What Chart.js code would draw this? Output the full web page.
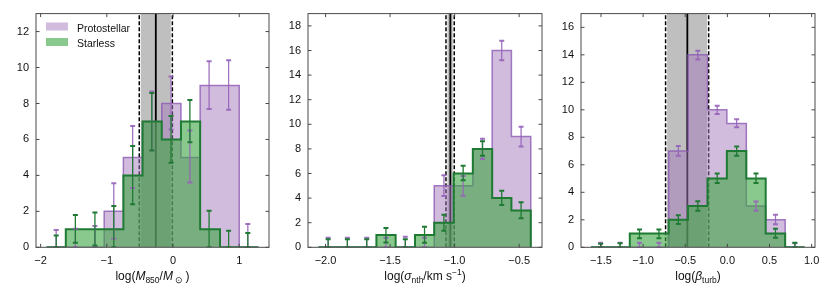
<!DOCTYPE html>
<html>
<head>
<meta charset="utf-8">
<script src="https://cdn.jsdelivr.net/npm/chart.js@4.4.1/dist/chart.umd.min.js"></script>
<style>
  body { margin: 0; background: #fff; }
  .panel { position: absolute; top: 0; height: 284px; }
</style>
</head>
<body>
<div class="panel" style="left:0;width:275px"><canvas id="massChart"></canvas></div>
<div class="panel" style="left:272px;width:276px"><canvas id="sigmaChart"></canvas></div>
<div class="panel" style="left:545px;width:285px"><canvas id="betaChart"></canvas></div>
<script>
// ---- log(M850 / Msun) ----
const massEdges = [-1.91, -1.62, -1.33, -1.04, -0.75, -0.46, -0.17, 0.12, 0.41, 0.71, 1.00, 1.29];
const massCenters = [-1.765, -1.475, -1.18, -0.895, -0.61, -0.32, -0.03, 0.255, 0.545, 0.84, 1.13];
const purpleMass = [0, 0, 0, 2, 5, 7, 8, 5, 9, 9, 0];
const greenMass = [0, 1, 1, 1, 4, 7, 6, 7, 1, 0, 0];
const purpleMassLo = [0, 0, 0, 0.48, 3.3, 5.4, 6.55, 3.6, 7.7, 7.65, 0];
const purpleMassHi = [0.96, 1.03, 1.18, 3.56, 6.75, 8.67, 9.5, 6.5, 10.35, 10.4, 1.3];
const greenMassLo = [0, 0.26, 0.1, 0, 2.4, 5.38, 4.7, 5.85, 0, 0, 0];
const greenMassHi = [0.66, 1.79, 1.94, 2.3, 5.63, 8.58, 7.3, 8.2, 2.03, 0.92, 0.8];
const massBand = [-0.51, -0.26, -0.01]; // low, median, high

// ---- log(sigma_nth / km s^-1) ----
const sigmaEdges = [-2.055, -1.905, -1.756, -1.606, -1.457, -1.307, -1.158, -1.008, -0.859, -0.709, -0.560, -0.410];
const sigmaCenters = [-1.98, -1.831, -1.681, -1.532, -1.382, -1.233, -1.083, -0.934, -0.784, -0.635, -0.485];
const purpleSigma = [0, 0, 0, 0, 0, 0, 5, 5, 8, 16, 9];
const greenSigma = [0, 0, 0, 1, 0, 1, 2, 6, 8, 4, 3];
const purpleSigmaLo = [0, 0, 0, 0, 0, 0, 4.18, 4.2, 7.18, 15.2, 8.2];
const purpleSigmaHi = [0.78, 0.78, 0.78, 0.78, 0.86, 0.78, 5.86, 5.8, 8.82, 16.8, 9.8];
const greenSigmaLo = [0, 0, 0, 0.4, 0, 0.38, 1.35, 5.45, 7.45, 3.43, 2.37];
const greenSigmaHi = [0.65, 0.65, 0.65, 1.57, 0.65, 1.67, 2.64, 6.64, 8.63, 4.6, 3.66];
const sigmaBand = [-1.067, -1.033, -1.003];

// ---- log(beta_turb) ----
const betaEdges = [-1.619, -1.389, -1.158, -0.928, -0.697, -0.467, -0.236, -0.006, 0.225, 0.455, 0.686, 0.916];
const betaCenters = [-1.504, -1.273, -1.043, -0.812, -0.582, -0.351, -0.121, 0.110, 0.340, 0.571, 0.801];
const purpleBeta = [0, 0, 0, 0, 7, 14, 10, 9, 3, 2, 0];
const greenBeta = [0, 0, 1, 1, 2, 3, 5, 7, 5, 1, 0];
const purpleBetaLo = [0, 0, 0, 0, 6.66, 13.66, 9.7, 8.74, 2.65, 1.67, 0];
const purpleBetaHi = [0.34, 0.34, 0.34, 0.34, 7.36, 14.29, 10.3, 9.31, 3.33, 2.36, 0.3];
const greenBetaLo = [0, 0, 0.65, 0.65, 1.69, 2.65, 4.68, 6.66, 4.68, 0.7, 0];
const greenBetaHi = [0.25, 0.3, 1.3, 1.3, 2.34, 3.35, 5.36, 7.34, 5.36, 1.35, 0.34];
const betaBand = [-0.733, -0.475, -0.222];

const seriesNames = ['Protostellar', 'Starless'];

const FONT = '"Liberation Sans", Arial, sans-serif';
const PURPLE_FILL = 'rgba(166, 122, 190, 0.5)';
const PURPLE_EDGE = 'rgba(140, 90, 180, 0.8)';
const PURPLE_ERR = 'rgba(150, 100, 185, 0.9)';
const GREEN_FILL = 'rgba(60, 165, 65, 0.6)';
const GREEN_EDGE = '#1f7a33';

// histogram outline as step points (bin edges -> counts)
function stepPoints(edges, counts) {
  const pts = [{ x: edges[0], y: 0 }];
  counts.forEach((c, i) => pts.push({ x: edges[i], y: c }));
  pts.push({ x: edges[edges.length - 1], y: counts[counts.length - 1] });
  pts.push({ x: edges[edges.length - 1], y: 0 });
  return pts;
}

// error bars: lo/hi pairs split by gaps
function errPoints(centers, lo, hi) {
  const pts = [];
  centers.forEach((c, i) => {
    pts.push({ x: c, y: lo[i] }, { x: c, y: hi[i] }, { x: c, y: null });
  });
  return pts;
}

function minus(str) { return str.replace('-', '\u2212'); }

// frame + inward ticks on all 4 sides
const framePlugin = {
  id: 'frame',
  afterDraw(chart) {
    const { ctx, chartArea: a, scales: { x, y } } = chart;
    ctx.save();
    ctx.strokeStyle = '#4a4a4a';
    ctx.lineWidth = 1;
    ctx.strokeRect(a.left, a.top, a.right - a.left, a.bottom - a.top);
    ctx.beginPath();
    x.ticks.forEach(t => {
      const px = x.getPixelForValue(t.value);
      ctx.moveTo(px, a.bottom); ctx.lineTo(px, a.bottom - 3.5);
      ctx.moveTo(px, a.top); ctx.lineTo(px, a.top + 3.5);
    });
    y.ticks.forEach(t => {
      const py = y.getPixelForValue(t.value);
      ctx.moveTo(a.left, py); ctx.lineTo(a.left + 3.5, py);
      ctx.moveTo(a.right, py); ctx.lineTo(a.right - 3.5, py);
    });
    ctx.stroke();
    ctx.restore();
  }
};

// x axis title with italics / sub / superscripts
const xLabelPlugin = {
  id: 'xlabel',
  afterDraw(chart, args, opts) {
    if (!opts.runs) return;
    const { ctx, chartArea: a } = chart;
    const styles = {
      n: { font: '12px ' + FONT, dy: 0 },
      i: { font: 'italic 12px ' + FONT, dy: 0 },
      sub: { font: '8.5px ' + FONT, dy: 3 },
      sup: { font: '8.5px ' + FONT, dy: -5 }
    };
    ctx.save();
    ctx.fillStyle = '#111';
    ctx.textAlign = 'left';
    ctx.textBaseline = 'alphabetic';
    let total = 0;
    const widths = opts.runs.map(([t, s]) => {
      ctx.font = styles[s].font;
      const w = ctx.measureText(t).width;
      total += w;
      return w;
    });
    let x = (a.left + a.right) / 2 - total / 2;
    opts.runs.forEach(([t, s], i) => {
      ctx.font = styles[s].font;
      ctx.fillText(t, x, opts.baseline + styles[s].dy);
      x += widths[i];
    });
    ctx.restore();
  }
};

// legend box in the first panel
const legendPlugin = {
  id: 'legendBox',
  afterDraw(chart, args, opts) {
    if (!opts.show) return;
    const { ctx } = chart;
    ctx.save();
    ctx.font = '10.5px ' + FONT;
    ctx.textBaseline = 'alphabetic';
    ctx.fillStyle = PURPLE_FILL;
    ctx.fillRect(46, 22.5, 22, 8);
    ctx.fillStyle = GREEN_FILL;
    ctx.fillRect(46, 38, 22, 8);
    ctx.fillStyle = '#111';
    ctx.fillText(seriesNames[0], 77, 31.5);
    ctx.fillText(seriesNames[1], 77, 47);
    ctx.restore();
  }
};

function makePanel(id, p) {
  const ctx = document.getElementById(id).getContext('2d');
  const yMax = p.yMax;
  new Chart(ctx, {
    type: 'line',
    data: {
      datasets: [
        // gray confidence band
        { data: [{ x: p.band[0], y: yMax }, { x: p.band[2], y: yMax }], fill: 'origin',
          backgroundColor: 'rgba(128, 128, 128, 0.5)', borderWidth: 0, pointRadius: 0, order: 10 },
        // white underlay of the dashed edges
        { data: [{ x: p.band[0], y: 0 }, { x: p.band[0], y: yMax }], borderColor: '#fff', borderWidth: 3, pointRadius: 0, order: 9 },
        { data: [{ x: p.band[2], y: 0 }, { x: p.band[2], y: yMax }], borderColor: '#fff', borderWidth: 3, pointRadius: 0, order: 9 },
        { data: [{ x: p.band[0], y: 0 }, { x: p.band[0], y: yMax }], borderColor: '#000', borderWidth: 1.5, borderDash: [4, 2], pointRadius: 0, order: 8 },
        { data: [{ x: p.band[2], y: 0 }, { x: p.band[2], y: yMax }], borderColor: '#000', borderWidth: 1.5, borderDash: [4, 2], pointRadius: 0, order: 8 },
        { data: [{ x: p.band[1], y: 0 }, { x: p.band[1], y: yMax }], borderColor: '#000', borderWidth: 1.8, pointRadius: 0, order: 8 },
        // histograms (horizontal first, then vertical)
        { label: seriesNames[0], data: stepPoints(p.edges, p.purple), stepped: 'before', fill: 'origin',
          backgroundColor: PURPLE_FILL, borderColor: PURPLE_EDGE, borderWidth: 1.5, pointRadius: 0, order: 6 },
        { label: seriesNames[1], data: stepPoints(p.edges, p.green), stepped: 'before', fill: 'origin',
          backgroundColor: GREEN_FILL, borderColor: GREEN_EDGE, borderWidth: 2, pointRadius: 0, order: 5 },
        // error bars
        { data: errPoints(p.centers, p.purpleLo, p.purpleHi), borderColor: PURPLE_ERR, borderWidth: 1.3,
          pointStyle: 'line', pointRadius: 2.5, pointBorderWidth: 2, pointBorderColor: PURPLE_ERR, spanGaps: false, order: 4 },
        { data: errPoints(p.centers, p.greenLo, p.greenHi), borderColor: GREEN_EDGE, borderWidth: 1.3,
          pointStyle: 'line', pointRadius: 2.5, pointBorderWidth: 2, pointBorderColor: GREEN_EDGE, spanGaps: false, order: 3 }
      ]
    },
    options: {
      responsive: true,
      maintainAspectRatio: false,
      animation: false,
      events: [],
      layout: { padding: { top: 12.7, right: p.padRight, left: 0, bottom: 0 } },
      plugins: {
        legend: { display: false },
        tooltip: { enabled: false },
        xlabel: { runs: p.title, baseline: 280 },
        legendBox: { show: !!p.legend }
      },
      scales: {
        x: {
          type: 'linear',
          min: p.xRange[0],
          max: p.xRange[1],
          grid: { display: false, drawTicks: false },
          border: { display: false },
          ticks: {
            stepSize: p.xStep,
            includeBounds: false,
            autoSkip: false,
            maxRotation: 0,
            padding: 7.5,
            color: '#111',
            font: { size: 11, family: FONT },
            callback: v => minus(p.xStep < 1 ? v.toFixed(1) : String(v))
          },
          afterFit: s => { s.height = 36.7; }
        },
        y: {
          min: 0,
          max: yMax,
          grid: { display: false, drawTicks: false },
          border: { display: false },
          ticks: {
            stepSize: 2,
            includeBounds: false,
            padding: 7,
            color: '#111',
            font: { size: 11, family: FONT }
          },
          afterFit: s => { s.width = 36; }
        }
      }
    },
    plugins: [framePlugin, xLabelPlugin, legendPlugin]
  });
}

makePanel('massChart', {
  edges: massEdges, centers: massCenters,
  purple: purpleMass, green: greenMass,
  purpleLo: purpleMassLo, purpleHi: purpleMassHi, greenLo: greenMassLo, greenHi: greenMassHi,
  band: massBand, xRange: [-2.07, 1.45], xStep: 1, yMax: 13, padRight: 4, legend: true,
  title: [['log(', 'n'], ['M', 'i'], ['850', 'sub'], ['/', 'n'], ['M', 'i'], [' \u2299 ', 'sub'], [')', 'n']]
});

makePanel('sigmaChart', {
  edges: sigmaEdges, centers: sigmaCenters,
  purple: purpleSigma, green: greenSigma,
  purpleLo: purpleSigmaLo, purpleHi: purpleSigmaHi, greenLo: greenSigmaLo, greenHi: greenSigmaHi,
  band: sigmaBand, xRange: [-2.136, -0.323], xStep: 0.5, yMax: 19, padRight: 4,
  title: [['log(', 'n'], ['\u03c3', 'i'], ['nth', 'sub'], ['/km s', 'n'], ['\u22121', 'sup'], [')', 'n']]
});

makePanel('betaChart', {
  edges: betaEdges, centers: betaCenters,
  purple: purpleBeta, green: greenBeta,
  purpleLo: purpleBetaLo, purpleHi: purpleBetaHi, greenLo: greenBetaLo, greenHi: greenBetaHi,
  band: betaBand, xRange: [-1.737, 1.04], xStep: 0.5, yMax: 17, padRight: 15,
  title: [['log(', 'n'], ['\u03b2', 'i'], ['turb', 'sub'], [')', 'n']]
});
</script>
</body>
</html>
